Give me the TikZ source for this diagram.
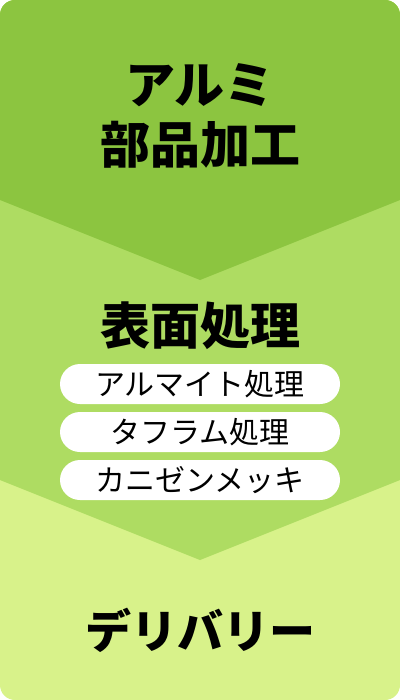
\documentclass[tikz,border=0pt]{standalone}
\usepackage{fontspec}
\setmainfont{Noto Sans CJK JP}
\definecolor{cA}{RGB}{140,197,64}
\definecolor{cB}{RGB}{174,220,98}
\definecolor{cC}{RGB}{216,242,138}
\tikzset{
  title/.style={font=\bfseries\fontsize{50}{60}\selectfont, text=black, inner sep=0pt, align=center},
  pill/.style={fill=white, rounded corners=20pt, minimum width=280pt, minimum height=40pt, inner sep=0pt,
    font=\fontsize{30}{30}\selectfont, text=black},
}
\begin{document}
\begin{tikzpicture}[x=1pt,y=-1pt]
\useasboundingbox (0,0) rectangle (400,700);
\begin{scope}
\clip[rounded corners=15pt] (0,0) rectangle (400,700);
\fill[cC] (0,0) rectangle (400,700);
\fill[cB] (0,0) -- (400,0) -- (400,480) -- (200,560) -- (0,480) -- cycle;
\fill[cA] (0,0) -- (400,0) -- (400,200) -- (200,280) -- (0,200) -- cycle;
\end{scope}
\node[title] (t1a) at (200,85) {アルミ};
\node[title] (t1b) at (200,145) {部品加工};
\node[title] (t2) at (200,326) {表面処理};
\node[pill] (p1) at (200,384) {アルマイト処理};
\node[pill] (p2) at (200,432) {タフラム処理};
\node[pill] (p3) at (200,480) {カニゼンメッキ};
\node[title, font=\bfseries\fontsize{46}{50}\selectfont] (t3) at (200,630) {デリバリー};
\end{tikzpicture}
\end{document}
